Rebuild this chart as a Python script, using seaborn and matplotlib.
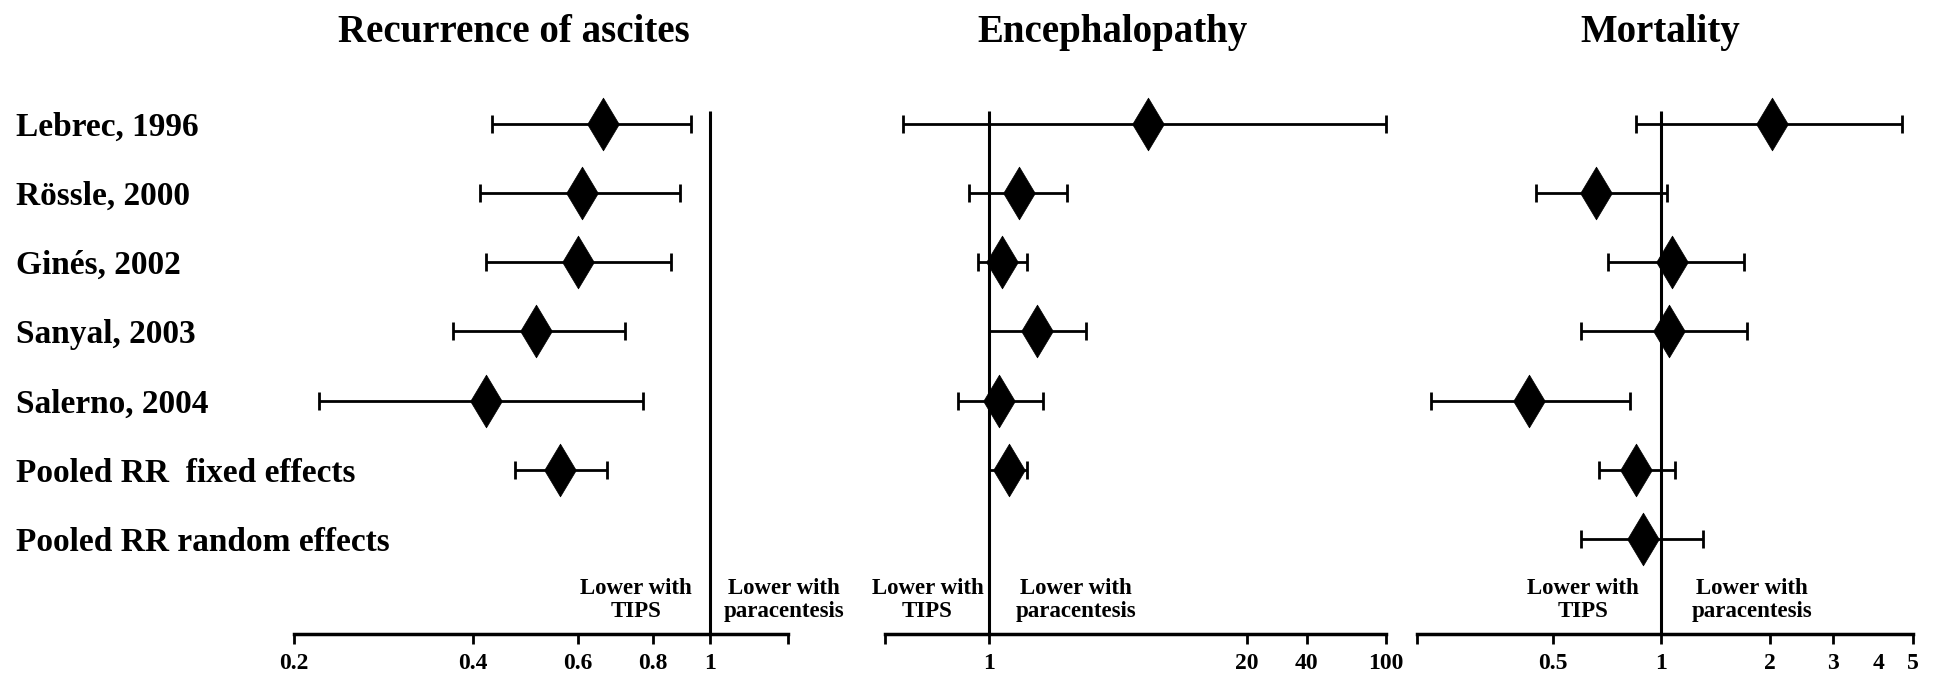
import numpy as np
import pandas as pd
import matplotlib
matplotlib.use('Agg')
import matplotlib.pyplot as plt
import seaborn as sns
from matplotlib.ticker import FixedLocator, FixedFormatter, NullLocator

# Study rows (top to bottom)
studies = ['Lebrec, 1996', 'Rössle, 2000', 'Ginés, 2002', 'Sanyal, 2003',
           'Salerno, 2004', 'Pooled RR  fixed effects', 'Pooled RR random effects']

# Relative risks with 95% CI (nan = not shown)
ascites_rr = [0.66, 0.61, 0.60, 0.51, 0.42, 0.56, np.nan]
ascites_lo = [0.43, 0.41, 0.42, 0.37, 0.22, 0.47, np.nan]
ascites_hi = [0.93, 0.89, 0.86, 0.72, 0.77, 0.67, np.nan]

enceph_rr = [6.3, 1.42, 1.16, 1.75, 1.12, 1.27, np.nan]
enceph_lo = [0.37, 0.79, 0.88, 1.0, 0.70, 1.0, np.nan]
enceph_hi = [100, 2.48, 1.56, 3.1, 1.88, 1.56, np.nan]

mort_rr = [2.03, 0.66, 1.07, 1.05, 0.43, 0.85, 0.89]
mort_lo = [0.85, 0.45, 0.71, 0.60, 0.23, 0.67, 0.60]
mort_hi = [4.65, 1.04, 1.70, 1.73, 0.82, 1.09, 1.31]

titles = ['Recurrence of ascites', 'Encephalopathy', 'Mortality']

ascites_ticks = [0.2, 0.4, 0.6, 0.8, 1, 1.35]
ascites_ticklabels = ['0.2', '0.4', '0.6', '0.8', '1', '']
enceph_ticks = [0.3, 1, 20, 40, 100]
enceph_ticklabels = ['', '1', '20', '40', '100']
mort_ticks = [0.21, 0.5, 1, 2, 3, 5]
mort_ticklabels = ['', '0.5', '1', '2', '3', '5']

sns.set_theme(style='white')
plt.rcParams['font.family'] = ['Liberation Serif', 'DejaVu Serif']
plt.rcParams['text.color'] = 'black'
plt.rcParams['xtick.color'] = 'black'
plt.rcParams['ytick.color'] = 'black'
plt.rcParams['axes.edgecolor'] = 'black'

fig = plt.figure(figsize=(19.43, 6.82), dpi=100)
bottom, height = 0.0704, 0.783
ax1 = fig.add_axes([0.1513, bottom, 0.2542, height])
ax2 = fig.add_axes([0.4555, bottom, 0.2578, height])
ax3 = fig.add_axes([0.7293, bottom, 0.2553, height])

panels = [
    (ax1, ascites_rr, ascites_lo, ascites_hi, ascites_ticks, ascites_ticklabels, 0.445, (-13.5, 9.5)),
    (ax2, enceph_rr, enceph_lo, enceph_hi, enceph_ticks, enceph_ticklabels, 0.455, (-4, 19)),
    (ax3, mort_rr, mort_lo, mort_hi, mort_ticks, mort_ticklabels, 0.49, (-16, 22)),
]

ybot, ytop = 7.37, -0.34

for i, (ax, rr, lo, hi, ticks, ticklabels, tx, offs) in enumerate(panels):
    df = pd.DataFrame({'study': studies, 'row': range(len(studies)),
                       'rr': rr, 'lo': lo, 'hi': hi}).dropna()

    # confidence intervals
    ax.errorbar(df['rr'], df['row'],
                xerr=[df['rr'] - df['lo'], df['hi'] - df['rr']],
                fmt='none', ecolor='black', elinewidth=2, capsize=6.2,
                capthick=2, clip_on=False, zorder=2)
    # point estimates
    sns.scatterplot(data=df, x='rr', y='row', marker='d', s=720,
                    color='black', edgecolor='black', linewidth=0.5,
                    ax=ax, legend=False, zorder=3, clip_on=False)

    ax.set_xscale('log')
    ax.set_xlim(ticks[0], ticks[-1])
    ax.set_ylim(ybot, ytop)

    # line of no effect
    ax.vlines(1, -0.18, ybot, color='black', linewidth=2.2, zorder=1)

    ax.xaxis.set_major_locator(FixedLocator(ticks))
    ax.xaxis.set_major_formatter(FixedFormatter(ticklabels))
    ax.xaxis.set_minor_locator(NullLocator())
    ax.tick_params(axis='x', direction='out', length=7, width=2,
                   pad=7, labelsize=17, bottom=True, colors='black')
    for lbl in ax.get_xticklabels():
        lbl.set_fontweight('bold')

    for s in ['top', 'right', 'left']:
        ax.spines[s].set_visible(False)
    ax.spines['bottom'].set_linewidth(2.5)
    ax.spines['bottom'].set_color('black')
    ax.set_xlabel('')
    ax.set_ylabel('')

    ax.set_title(titles[i], x=tx, y=1.109, va='baseline', pad=0,
                 fontsize=28, fontweight='bold', color='black')

    ax.annotate('Lower with\nTIPS', xy=(1, 6.88), xytext=(offs[0], 0),
                textcoords='offset points', ha='right', va='center',
                multialignment='center', fontsize=16.5, fontweight='bold',
                linespacing=1.15, color='black')
    ax.annotate('Lower with\nparacentesis', xy=(1, 6.88), xytext=(offs[1], 0),
                textcoords='offset points', ha='left', va='center',
                multialignment='center', fontsize=16.5, fontweight='bold',
                linespacing=1.15, color='black')

    if i == 0:
        ax.set_yticks(range(len(studies)))
        ax.set_yticklabels(studies, fontsize=24, fontweight='bold', ha='left',
                           color='black')
        ax.tick_params(axis='y', length=0, pad=200)
    else:
        ax.set_yticks([])

# '4' is labelled on the mortality axis without a tick mark
ax3.xaxis.set_minor_locator(FixedLocator([4]))
ax3.xaxis.set_minor_formatter(FixedFormatter(['4']))
ax3.tick_params(axis='x', which='minor', length=0, pad=14, labelsize=17,
                colors='black')
for lbl in ax3.get_xticklabels(minor=True):
    lbl.set_fontweight('bold')

fig.savefig('out.png', dpi=100)
